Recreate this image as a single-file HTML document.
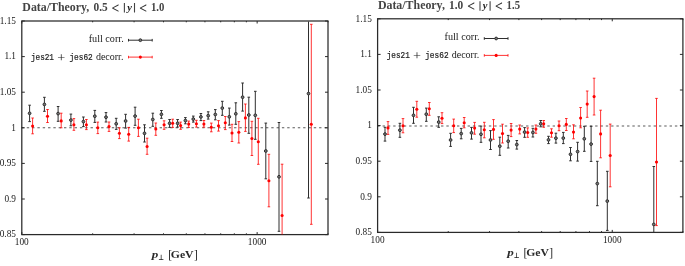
<!DOCTYPE html><html><head><meta charset="utf-8"><title>Data/Theory</title><style>
html,body{margin:0;padding:0;background:#fff;}
body{width:685px;height:266px;overflow:hidden;}
svg{display:block;filter:blur(0.3px);}
text{font-family:"Liberation Serif",serif;fill:#1a1a1a;}
.tl{font-size:9.3px;}
.ti{font-size:11.5px;font-weight:bold;fill:#444;}
.bi{font-style:italic;}
.lg{font-size:9.3px;}
.tt{font-family:"Liberation Mono",monospace;font-size:8.3px;stroke:#222;stroke-width:0.2px;}
.xl{font-size:9.5px;font-weight:bold;fill:#2a2a2a;}
.xlr{font-size:11.5px;}
.lt{font-size:14px;font-weight:bold;fill:#333;}
.yi{font-size:10.5px;font-weight:bold;font-style:italic;fill:#222;}
.pl{font-size:12.5px;}
.sub{font-size:7.5px;font-weight:bold;font-family:"Liberation Serif","DejaVu Serif",serif;}
</style></head><body><svg width="685" height="266" viewBox="0 0 685 266"><line x1="21.45" y1="127.8" x2="328" y2="127.8" stroke="#5a5a5a" stroke-width="1.1" stroke-dasharray="2.4 2.915"/><g stroke="#111" stroke-width="0.9"><line x1="21.8" y1="234.6" x2="24.8" y2="234.6"/><line x1="328" y1="234.6" x2="325" y2="234.6"/><line x1="21.8" y1="199" x2="24.8" y2="199"/><line x1="328" y1="199" x2="325" y2="199"/><line x1="21.8" y1="163.4" x2="24.8" y2="163.4"/><line x1="328" y1="163.4" x2="325" y2="163.4"/><line x1="21.8" y1="127.8" x2="24.8" y2="127.8"/><line x1="328" y1="127.8" x2="325" y2="127.8"/><line x1="21.8" y1="92.2" x2="24.8" y2="92.2"/><line x1="328" y1="92.2" x2="325" y2="92.2"/><line x1="21.8" y1="56.6" x2="24.8" y2="56.6"/><line x1="328" y1="56.6" x2="325" y2="56.6"/><line x1="21.8" y1="21" x2="24.8" y2="21"/><line x1="328" y1="21" x2="325" y2="21"/><line x1="21.8" y1="234.6" x2="21.8" y2="232.1"/><line x1="21.8" y1="21" x2="21.8" y2="23.5"/><line x1="92.65" y1="234.6" x2="92.65" y2="233.3"/><line x1="92.65" y1="21" x2="92.65" y2="22.3"/><line x1="134.09" y1="234.6" x2="134.09" y2="233.3"/><line x1="134.09" y1="21" x2="134.09" y2="22.3"/><line x1="163.5" y1="234.6" x2="163.5" y2="233.3"/><line x1="163.5" y1="21" x2="163.5" y2="22.3"/><line x1="186.3" y1="234.6" x2="186.3" y2="233.3"/><line x1="186.3" y1="21" x2="186.3" y2="22.3"/><line x1="204.94" y1="234.6" x2="204.94" y2="233.3"/><line x1="204.94" y1="21" x2="204.94" y2="22.3"/><line x1="220.7" y1="234.6" x2="220.7" y2="233.3"/><line x1="220.7" y1="21" x2="220.7" y2="22.3"/><line x1="234.34" y1="234.6" x2="234.34" y2="233.3"/><line x1="234.34" y1="21" x2="234.34" y2="22.3"/><line x1="246.38" y1="234.6" x2="246.38" y2="233.3"/><line x1="246.38" y1="21" x2="246.38" y2="22.3"/><line x1="257.15" y1="234.6" x2="257.15" y2="232.1"/><line x1="257.15" y1="21" x2="257.15" y2="23.5"/><line x1="328" y1="234.6" x2="328" y2="233.3"/><line x1="328" y1="21" x2="328" y2="22.3"/></g><rect x="21.8" y="21" width="306.2" height="213.6" fill="none" stroke="#2a2a2a" stroke-width="1.25"/><text x="16" y="237.3" text-anchor="end" class="tl">0.85</text><text x="16" y="201.7" text-anchor="end" class="tl">0.9</text><text x="16" y="166.1" text-anchor="end" class="tl">0.95</text><text x="16" y="130.5" text-anchor="end" class="tl">1</text><text x="16" y="94.9" text-anchor="end" class="tl">1.05</text><text x="16" y="59.3" text-anchor="end" class="tl">1.1</text><text x="16" y="23.7" text-anchor="end" class="tl">1.15</text><text x="21.8" y="245.4" text-anchor="middle" class="tl">100</text><text x="257.15" y="245.4" text-anchor="middle" class="tl">1000</text><line x1="377.25" y1="126" x2="682.9" y2="126" stroke="#5a5a5a" stroke-width="1.1" stroke-dasharray="2.4 2.915"/><g stroke="#111" stroke-width="0.9"><line x1="377.6" y1="232.4" x2="380.6" y2="232.4"/><line x1="682.9" y1="232.4" x2="679.9" y2="232.4"/><line x1="377.6" y1="196.8" x2="380.6" y2="196.8"/><line x1="682.9" y1="196.8" x2="679.9" y2="196.8"/><line x1="377.6" y1="161.2" x2="380.6" y2="161.2"/><line x1="682.9" y1="161.2" x2="679.9" y2="161.2"/><line x1="377.6" y1="125.6" x2="380.6" y2="125.6"/><line x1="682.9" y1="125.6" x2="679.9" y2="125.6"/><line x1="377.6" y1="90" x2="380.6" y2="90"/><line x1="682.9" y1="90" x2="679.9" y2="90"/><line x1="377.6" y1="54.4" x2="380.6" y2="54.4"/><line x1="682.9" y1="54.4" x2="679.9" y2="54.4"/><line x1="377.6" y1="18.8" x2="380.6" y2="18.8"/><line x1="682.9" y1="18.8" x2="679.9" y2="18.8"/><line x1="377.6" y1="232.4" x2="377.6" y2="229.9"/><line x1="377.6" y1="18.8" x2="377.6" y2="21.3"/><line x1="448.24" y1="232.4" x2="448.24" y2="231.1"/><line x1="448.24" y1="18.8" x2="448.24" y2="20.1"/><line x1="489.56" y1="232.4" x2="489.56" y2="231.1"/><line x1="489.56" y1="18.8" x2="489.56" y2="20.1"/><line x1="518.88" y1="232.4" x2="518.88" y2="231.1"/><line x1="518.88" y1="18.8" x2="518.88" y2="20.1"/><line x1="541.62" y1="232.4" x2="541.62" y2="231.1"/><line x1="541.62" y1="18.8" x2="541.62" y2="20.1"/><line x1="560.2" y1="232.4" x2="560.2" y2="231.1"/><line x1="560.2" y1="18.8" x2="560.2" y2="20.1"/><line x1="575.91" y1="232.4" x2="575.91" y2="231.1"/><line x1="575.91" y1="18.8" x2="575.91" y2="20.1"/><line x1="589.52" y1="232.4" x2="589.52" y2="231.1"/><line x1="589.52" y1="18.8" x2="589.52" y2="20.1"/><line x1="601.52" y1="232.4" x2="601.52" y2="231.1"/><line x1="601.52" y1="18.8" x2="601.52" y2="20.1"/><line x1="612.26" y1="232.4" x2="612.26" y2="229.9"/><line x1="612.26" y1="18.8" x2="612.26" y2="21.3"/><line x1="682.9" y1="232.4" x2="682.9" y2="231.1"/><line x1="682.9" y1="18.8" x2="682.9" y2="20.1"/></g><rect x="377.6" y="18.8" width="305.3" height="213.6" fill="none" stroke="#2a2a2a" stroke-width="1.25"/><text x="371.8" y="235.1" text-anchor="end" class="tl">0.85</text><text x="371.8" y="199.5" text-anchor="end" class="tl">0.9</text><text x="371.8" y="163.9" text-anchor="end" class="tl">0.95</text><text x="371.8" y="128.3" text-anchor="end" class="tl">1</text><text x="371.8" y="92.7" text-anchor="end" class="tl">1.05</text><text x="371.8" y="57.1" text-anchor="end" class="tl">1.1</text><text x="371.8" y="21.5" text-anchor="end" class="tl">1.15</text><text x="377.6" y="243.2" text-anchor="middle" class="tl">100</text><text x="612.26" y="243.2" text-anchor="middle" class="tl">1000</text><g stroke="#2e2e2e" stroke-width="1.0" fill="none"><line x1="29.6" y1="105.2" x2="29.6" y2="121.6"/><line x1="28.3" y1="105.2" x2="30.9" y2="105.2"/><line x1="28.3" y1="121.6" x2="30.9" y2="121.6"/><line x1="44.4" y1="97.3" x2="44.4" y2="111.3"/><line x1="43.1" y1="97.3" x2="45.7" y2="97.3"/><line x1="43.1" y1="111.3" x2="45.7" y2="111.3"/><line x1="58.1" y1="106.5" x2="58.1" y2="121.3"/><line x1="56.8" y1="106.5" x2="59.4" y2="106.5"/><line x1="56.8" y1="121.3" x2="59.4" y2="121.3"/><line x1="70.9" y1="114.1" x2="70.9" y2="125.8"/><line x1="69.6" y1="114.1" x2="72.2" y2="114.1"/><line x1="69.6" y1="125.8" x2="72.2" y2="125.8"/><line x1="83.4" y1="117" x2="83.4" y2="126.6"/><line x1="82.1" y1="117" x2="84.7" y2="117"/><line x1="82.1" y1="126.6" x2="84.7" y2="126.6"/><line x1="94.8" y1="110.4" x2="94.8" y2="122.4"/><line x1="93.5" y1="110.4" x2="96.1" y2="110.4"/><line x1="93.5" y1="122.4" x2="96.1" y2="122.4"/><line x1="106" y1="112.6" x2="106" y2="122"/><line x1="104.7" y1="112.6" x2="107.3" y2="112.6"/><line x1="104.7" y1="122" x2="107.3" y2="122"/><line x1="116.2" y1="118.3" x2="116.2" y2="129.4"/><line x1="114.9" y1="118.3" x2="117.5" y2="118.3"/><line x1="114.9" y1="129.4" x2="117.5" y2="129.4"/><line x1="125.6" y1="114.3" x2="125.6" y2="128.1"/><line x1="124.3" y1="114.3" x2="126.9" y2="114.3"/><line x1="124.3" y1="128.1" x2="126.9" y2="128.1"/><line x1="135.1" y1="107.2" x2="135.1" y2="125.3"/><line x1="133.8" y1="107.2" x2="136.4" y2="107.2"/><line x1="133.8" y1="125.3" x2="136.4" y2="125.3"/><line x1="144.5" y1="124.8" x2="144.5" y2="142"/><line x1="143.2" y1="124.8" x2="145.8" y2="124.8"/><line x1="143.2" y1="142" x2="145.8" y2="142"/><line x1="152.8" y1="113.2" x2="152.8" y2="126.3"/><line x1="151.5" y1="113.2" x2="154.1" y2="113.2"/><line x1="151.5" y1="126.3" x2="154.1" y2="126.3"/><line x1="161.4" y1="110.5" x2="161.4" y2="118.3"/><line x1="160.1" y1="110.5" x2="162.7" y2="110.5"/><line x1="160.1" y1="118.3" x2="162.7" y2="118.3"/><line x1="169.6" y1="119.5" x2="169.6" y2="127.4"/><line x1="168.3" y1="119.5" x2="170.9" y2="119.5"/><line x1="168.3" y1="127.4" x2="170.9" y2="127.4"/><line x1="177.6" y1="119.5" x2="177.6" y2="127.1"/><line x1="176.3" y1="119.5" x2="178.9" y2="119.5"/><line x1="176.3" y1="127.1" x2="178.9" y2="127.1"/><line x1="185.4" y1="117.6" x2="185.4" y2="123.8"/><line x1="184.1" y1="117.6" x2="186.7" y2="117.6"/><line x1="184.1" y1="123.8" x2="186.7" y2="123.8"/><line x1="193.3" y1="116.1" x2="193.3" y2="122.1"/><line x1="192" y1="116.1" x2="194.6" y2="116.1"/><line x1="192" y1="122.1" x2="194.6" y2="122.1"/><line x1="200.9" y1="113.5" x2="200.9" y2="120.6"/><line x1="199.6" y1="113.5" x2="202.2" y2="113.5"/><line x1="199.6" y1="120.6" x2="202.2" y2="120.6"/><line x1="208.2" y1="111.8" x2="208.2" y2="119.1"/><line x1="206.9" y1="111.8" x2="209.5" y2="111.8"/><line x1="206.9" y1="119.1" x2="209.5" y2="119.1"/><line x1="215.3" y1="109.6" x2="215.3" y2="119.8"/><line x1="214" y1="109.6" x2="216.6" y2="109.6"/><line x1="214" y1="119.8" x2="216.6" y2="119.8"/><line x1="222.3" y1="101.3" x2="222.3" y2="115.3"/><line x1="221" y1="101.3" x2="223.6" y2="101.3"/><line x1="221" y1="115.3" x2="223.6" y2="115.3"/><line x1="229.3" y1="108.1" x2="229.3" y2="125.1"/><line x1="228" y1="108.1" x2="230.6" y2="108.1"/><line x1="228" y1="125.1" x2="230.6" y2="125.1"/><line x1="235.8" y1="102.8" x2="235.8" y2="124.3"/><line x1="234.5" y1="102.8" x2="237.1" y2="102.8"/><line x1="234.5" y1="124.3" x2="237.1" y2="124.3"/><line x1="242.6" y1="83" x2="242.6" y2="111.1"/><line x1="241.3" y1="83" x2="243.9" y2="83"/><line x1="241.3" y1="111.1" x2="243.9" y2="111.1"/><line x1="248.8" y1="97.2" x2="248.8" y2="133.3"/><line x1="247.5" y1="97.2" x2="250.1" y2="97.2"/><line x1="247.5" y1="133.3" x2="250.1" y2="133.3"/><line x1="255.3" y1="91.3" x2="255.3" y2="139.3"/><line x1="254" y1="91.3" x2="256.6" y2="91.3"/><line x1="254" y1="139.3" x2="256.6" y2="139.3"/><line x1="265.8" y1="123.1" x2="265.8" y2="178.8"/><line x1="264.5" y1="123.1" x2="267.1" y2="123.1"/><line x1="264.5" y1="178.8" x2="267.1" y2="178.8"/><line x1="279" y1="122.5" x2="279" y2="231.3"/><line x1="277.7" y1="122.5" x2="280.3" y2="122.5"/><line x1="277.7" y1="231.3" x2="280.3" y2="231.3"/><line x1="308.5" y1="21.5" x2="308.5" y2="198"/><line x1="307.2" y1="198" x2="309.8" y2="198"/></g><g fill="#777" stroke="#2e2e2e" stroke-width="1.0"><circle cx="29.6" cy="113.3" r="1.4"/><circle cx="44.4" cy="104.4" r="1.4"/><circle cx="58.1" cy="113.6" r="1.4"/><circle cx="70.9" cy="120.1" r="1.4"/><circle cx="83.4" cy="121.6" r="1.4"/><circle cx="94.8" cy="116.2" r="1.4"/><circle cx="106" cy="117.2" r="1.4"/><circle cx="116.2" cy="123.8" r="1.4"/><circle cx="125.6" cy="121" r="1.4"/><circle cx="135.1" cy="116.1" r="1.4"/><circle cx="144.5" cy="133.3" r="1.4"/><circle cx="152.8" cy="119.5" r="1.4"/><circle cx="161.4" cy="114.3" r="1.4"/><circle cx="169.6" cy="123.3" r="1.4"/><circle cx="177.6" cy="123.3" r="1.4"/><circle cx="185.4" cy="120.6" r="1.4"/><circle cx="193.3" cy="119.1" r="1.4"/><circle cx="200.9" cy="116.9" r="1.4"/><circle cx="208.2" cy="115.7" r="1.4"/><circle cx="215.3" cy="114.5" r="1.4"/><circle cx="222.3" cy="108.1" r="1.4"/><circle cx="229.3" cy="116.8" r="1.4"/><circle cx="235.8" cy="113.8" r="1.4"/><circle cx="242.6" cy="97.2" r="1.4"/><circle cx="248.8" cy="115" r="1.4"/><circle cx="255.3" cy="115.3" r="1.4"/><circle cx="265.8" cy="151" r="1.4"/><circle cx="279" cy="176.8" r="1.4"/><circle cx="308.5" cy="93.6" r="1.4"/></g><g stroke="#f00" stroke-width="0.8" fill="none"><line x1="32.6" y1="118" x2="32.6" y2="133.8"/><line x1="31.3" y1="118" x2="33.9" y2="118"/><line x1="31.3" y1="133.8" x2="33.9" y2="133.8"/><line x1="47.5" y1="109.5" x2="47.5" y2="122.5"/><line x1="46.2" y1="109.5" x2="48.8" y2="109.5"/><line x1="46.2" y1="122.5" x2="48.8" y2="122.5"/><line x1="61.2" y1="113.2" x2="61.2" y2="127.8"/><line x1="59.9" y1="113.2" x2="62.5" y2="113.2"/><line x1="59.9" y1="127.8" x2="62.5" y2="127.8"/><line x1="73.9" y1="118.6" x2="73.9" y2="130.3"/><line x1="72.6" y1="118.6" x2="75.2" y2="118.6"/><line x1="72.6" y1="130.3" x2="75.2" y2="130.3"/><line x1="86.4" y1="119.5" x2="86.4" y2="129.6"/><line x1="85.1" y1="119.5" x2="87.7" y2="119.5"/><line x1="85.1" y1="129.6" x2="87.7" y2="129.6"/><line x1="97.8" y1="122.1" x2="97.8" y2="133.6"/><line x1="96.5" y1="122.1" x2="99.1" y2="122.1"/><line x1="96.5" y1="133.6" x2="99.1" y2="133.6"/><line x1="109" y1="122" x2="109" y2="131.4"/><line x1="107.7" y1="122" x2="110.3" y2="122"/><line x1="107.7" y1="131.4" x2="110.3" y2="131.4"/><line x1="119.4" y1="127.8" x2="119.4" y2="138.6"/><line x1="118.1" y1="127.8" x2="120.7" y2="127.8"/><line x1="118.1" y1="138.6" x2="120.7" y2="138.6"/><line x1="128.7" y1="127.4" x2="128.7" y2="141.1"/><line x1="127.4" y1="127.4" x2="130" y2="127.4"/><line x1="127.4" y1="141.1" x2="130" y2="141.1"/><line x1="138.4" y1="119.2" x2="138.4" y2="136.4"/><line x1="137.1" y1="119.2" x2="139.7" y2="119.2"/><line x1="137.1" y1="136.4" x2="139.7" y2="136.4"/><line x1="147.1" y1="138.2" x2="147.1" y2="154.3"/><line x1="145.8" y1="138.2" x2="148.4" y2="138.2"/><line x1="145.8" y1="154.3" x2="148.4" y2="154.3"/><line x1="155.8" y1="123" x2="155.8" y2="135.3"/><line x1="154.5" y1="123" x2="157.1" y2="123"/><line x1="154.5" y1="135.3" x2="157.1" y2="135.3"/><line x1="164.1" y1="120.8" x2="164.1" y2="129.3"/><line x1="162.8" y1="120.8" x2="165.4" y2="120.8"/><line x1="162.8" y1="129.3" x2="165.4" y2="129.3"/><line x1="172.7" y1="119.2" x2="172.7" y2="127.4"/><line x1="171.4" y1="119.2" x2="174" y2="119.2"/><line x1="171.4" y1="127.4" x2="174" y2="127.4"/><line x1="180.6" y1="122.1" x2="180.6" y2="129.3"/><line x1="179.3" y1="122.1" x2="181.9" y2="122.1"/><line x1="179.3" y1="129.3" x2="181.9" y2="129.3"/><line x1="188.7" y1="121.1" x2="188.7" y2="127.4"/><line x1="187.4" y1="121.1" x2="190" y2="121.1"/><line x1="187.4" y1="127.4" x2="190" y2="127.4"/><line x1="196.4" y1="120.3" x2="196.4" y2="127.1"/><line x1="195.1" y1="120.3" x2="197.7" y2="120.3"/><line x1="195.1" y1="127.1" x2="197.7" y2="127.1"/><line x1="203.9" y1="120.5" x2="203.9" y2="127.2"/><line x1="202.6" y1="120.5" x2="205.2" y2="120.5"/><line x1="202.6" y1="127.2" x2="205.2" y2="127.2"/><line x1="211.3" y1="123.1" x2="211.3" y2="131.8"/><line x1="210" y1="123.1" x2="212.6" y2="123.1"/><line x1="210" y1="131.8" x2="212.6" y2="131.8"/><line x1="218.5" y1="120.6" x2="218.5" y2="131.1"/><line x1="217.2" y1="120.6" x2="219.8" y2="120.6"/><line x1="217.2" y1="131.1" x2="219.8" y2="131.1"/><line x1="225.3" y1="116.5" x2="225.3" y2="129.6"/><line x1="224" y1="116.5" x2="226.6" y2="116.5"/><line x1="224" y1="129.6" x2="226.6" y2="129.6"/><line x1="232" y1="124.3" x2="232" y2="141.5"/><line x1="230.7" y1="124.3" x2="233.3" y2="124.3"/><line x1="230.7" y1="141.5" x2="233.3" y2="141.5"/><line x1="238.8" y1="121.6" x2="238.8" y2="143"/><line x1="237.5" y1="121.6" x2="240.1" y2="121.6"/><line x1="237.5" y1="143" x2="240.1" y2="143"/><line x1="245.4" y1="104" x2="245.4" y2="131.4"/><line x1="244.1" y1="104" x2="246.7" y2="104"/><line x1="244.1" y1="131.4" x2="246.7" y2="131.4"/><line x1="251.9" y1="121.3" x2="251.9" y2="155.5"/><line x1="250.6" y1="121.3" x2="253.2" y2="121.3"/><line x1="250.6" y1="155.5" x2="253.2" y2="155.5"/><line x1="258.3" y1="118.3" x2="258.3" y2="164.3"/><line x1="257" y1="118.3" x2="259.6" y2="118.3"/><line x1="257" y1="164.3" x2="259.6" y2="164.3"/><line x1="268.9" y1="154.3" x2="268.9" y2="206.8"/><line x1="267.6" y1="154.3" x2="270.2" y2="154.3"/><line x1="267.6" y1="206.8" x2="270.2" y2="206.8"/><line x1="282.1" y1="164.2" x2="282.1" y2="234.5"/><line x1="280.8" y1="164.2" x2="283.4" y2="164.2"/><line x1="311.3" y1="24.3" x2="311.3" y2="224.3"/><line x1="310" y1="24.3" x2="312.6" y2="24.3"/><line x1="310" y1="224.3" x2="312.6" y2="224.3"/></g><g fill="#f00"><circle cx="32.6" cy="126.1" r="1.55"/><circle cx="47.5" cy="116.3" r="1.55"/><circle cx="61.2" cy="120.9" r="1.55"/><circle cx="73.9" cy="124.8" r="1.55"/><circle cx="86.4" cy="124.8" r="1.55"/><circle cx="97.8" cy="127.8" r="1.55"/><circle cx="109" cy="126.6" r="1.55"/><circle cx="119.4" cy="133.2" r="1.55"/><circle cx="128.7" cy="134.3" r="1.55"/><circle cx="138.4" cy="127.8" r="1.55"/><circle cx="147.1" cy="146.5" r="1.55"/><circle cx="155.8" cy="129" r="1.55"/><circle cx="164.1" cy="124.8" r="1.55"/><circle cx="172.7" cy="123.3" r="1.55"/><circle cx="180.6" cy="125.6" r="1.55"/><circle cx="188.7" cy="124.1" r="1.55"/><circle cx="196.4" cy="123.8" r="1.55"/><circle cx="203.9" cy="124.1" r="1.55"/><circle cx="211.3" cy="127.3" r="1.55"/><circle cx="218.5" cy="125.8" r="1.55"/><circle cx="225.3" cy="122.8" r="1.55"/><circle cx="232" cy="133" r="1.55"/><circle cx="238.8" cy="132.2" r="1.55"/><circle cx="245.4" cy="117.9" r="1.55"/><circle cx="251.9" cy="138.5" r="1.55"/><circle cx="258.3" cy="141.8" r="1.55"/><circle cx="268.9" cy="180.8" r="1.55"/><circle cx="282.1" cy="215.5" r="1.55"/><circle cx="311.3" cy="124.2" r="1.55"/></g><g stroke="#2e2e2e" stroke-width="1.0" fill="none"><line x1="385" y1="127.3" x2="385" y2="141.1"/><line x1="383.7" y1="127.3" x2="386.3" y2="127.3"/><line x1="383.7" y1="141.1" x2="386.3" y2="141.1"/><line x1="399.9" y1="123.3" x2="399.9" y2="137.3"/><line x1="398.6" y1="123.3" x2="401.2" y2="123.3"/><line x1="398.6" y1="137.3" x2="401.2" y2="137.3"/><line x1="413.5" y1="107.3" x2="413.5" y2="123.3"/><line x1="412.2" y1="107.3" x2="414.8" y2="107.3"/><line x1="412.2" y1="123.3" x2="414.8" y2="123.3"/><line x1="426.3" y1="108.1" x2="426.3" y2="121.3"/><line x1="425" y1="108.1" x2="427.6" y2="108.1"/><line x1="425" y1="121.3" x2="427.6" y2="121.3"/><line x1="438.7" y1="116.8" x2="438.7" y2="127.3"/><line x1="437.4" y1="116.8" x2="440" y2="116.8"/><line x1="437.4" y1="127.3" x2="440" y2="127.3"/><line x1="450.6" y1="133.3" x2="450.6" y2="146.4"/><line x1="449.3" y1="133.3" x2="451.9" y2="133.3"/><line x1="449.3" y1="146.4" x2="451.9" y2="146.4"/><line x1="461.2" y1="128.4" x2="461.2" y2="138.8"/><line x1="459.9" y1="128.4" x2="462.5" y2="128.4"/><line x1="459.9" y1="138.8" x2="462.5" y2="138.8"/><line x1="471.5" y1="127.4" x2="471.5" y2="139.1"/><line x1="470.2" y1="127.4" x2="472.8" y2="127.4"/><line x1="470.2" y1="139.1" x2="472.8" y2="139.1"/><line x1="481" y1="126.1" x2="481" y2="142.3"/><line x1="479.7" y1="126.1" x2="482.3" y2="126.1"/><line x1="479.7" y1="142.3" x2="482.3" y2="142.3"/><line x1="490.5" y1="130.6" x2="490.5" y2="149.5"/><line x1="489.2" y1="130.6" x2="491.8" y2="130.6"/><line x1="489.2" y1="149.5" x2="491.8" y2="149.5"/><line x1="499.8" y1="137.2" x2="499.8" y2="155.3"/><line x1="498.5" y1="137.2" x2="501.1" y2="137.2"/><line x1="498.5" y1="155.3" x2="501.1" y2="155.3"/><line x1="508.2" y1="135.4" x2="508.2" y2="148"/><line x1="506.9" y1="135.4" x2="509.5" y2="135.4"/><line x1="506.9" y1="148" x2="509.5" y2="148"/><line x1="516.8" y1="140.5" x2="516.8" y2="149.1"/><line x1="515.5" y1="140.5" x2="518.1" y2="140.5"/><line x1="515.5" y1="149.1" x2="518.1" y2="149.1"/><line x1="524.6" y1="127.6" x2="524.6" y2="137.3"/><line x1="523.3" y1="127.6" x2="525.9" y2="127.6"/><line x1="523.3" y1="137.3" x2="525.9" y2="137.3"/><line x1="532.9" y1="128.3" x2="532.9" y2="137"/><line x1="531.6" y1="128.3" x2="534.2" y2="128.3"/><line x1="531.6" y1="137" x2="534.2" y2="137"/><line x1="540.7" y1="120.5" x2="540.7" y2="126.8"/><line x1="539.4" y1="120.5" x2="542" y2="120.5"/><line x1="539.4" y1="126.8" x2="542" y2="126.8"/><line x1="548.5" y1="136.3" x2="548.5" y2="143.6"/><line x1="547.2" y1="136.3" x2="549.8" y2="136.3"/><line x1="547.2" y1="143.6" x2="549.8" y2="143.6"/><line x1="555.9" y1="133.2" x2="555.9" y2="143.1"/><line x1="554.6" y1="133.2" x2="557.2" y2="133.2"/><line x1="554.6" y1="143.1" x2="557.2" y2="143.1"/><line x1="563.3" y1="132.4" x2="563.3" y2="143.6"/><line x1="562" y1="132.4" x2="564.6" y2="132.4"/><line x1="562" y1="143.6" x2="564.6" y2="143.6"/><line x1="570.5" y1="147.5" x2="570.5" y2="160.8"/><line x1="569.2" y1="147.5" x2="571.8" y2="147.5"/><line x1="569.2" y1="160.8" x2="571.8" y2="160.8"/><line x1="577.6" y1="142.3" x2="577.6" y2="161.1"/><line x1="576.3" y1="142.3" x2="578.9" y2="142.3"/><line x1="576.3" y1="161.1" x2="578.9" y2="161.1"/><line x1="584.3" y1="126.3" x2="584.3" y2="151.3"/><line x1="583" y1="126.3" x2="585.6" y2="126.3"/><line x1="583" y1="151.3" x2="585.6" y2="151.3"/><line x1="591.1" y1="126.3" x2="591.1" y2="161.4"/><line x1="589.8" y1="126.3" x2="592.4" y2="126.3"/><line x1="589.8" y1="161.4" x2="592.4" y2="161.4"/><line x1="597.3" y1="161.3" x2="597.3" y2="205.7"/><line x1="596" y1="161.3" x2="598.6" y2="161.3"/><line x1="596" y1="205.7" x2="598.6" y2="205.7"/><line x1="607.3" y1="171.3" x2="607.3" y2="230.4"/><line x1="606" y1="171.3" x2="608.6" y2="171.3"/><line x1="606" y1="230.4" x2="608.6" y2="230.4"/><line x1="653.8" y1="166.5" x2="653.8" y2="232.5"/><line x1="652.5" y1="166.5" x2="655.1" y2="166.5"/></g><g fill="#777" stroke="#2e2e2e" stroke-width="1.0"><circle cx="385" cy="134.1" r="1.4"/><circle cx="399.9" cy="130.2" r="1.4"/><circle cx="413.5" cy="115.3" r="1.4"/><circle cx="426.3" cy="114.2" r="1.4"/><circle cx="438.7" cy="122.1" r="1.4"/><circle cx="450.6" cy="140" r="1.4"/><circle cx="461.2" cy="133.6" r="1.4"/><circle cx="471.5" cy="132.9" r="1.4"/><circle cx="481" cy="134.3" r="1.4"/><circle cx="490.5" cy="140" r="1.4"/><circle cx="499.8" cy="146.2" r="1.4"/><circle cx="508.2" cy="141.2" r="1.4"/><circle cx="516.8" cy="144.6" r="1.4"/><circle cx="524.6" cy="132.1" r="1.4"/><circle cx="532.9" cy="132.5" r="1.4"/><circle cx="540.7" cy="123.8" r="1.4"/><circle cx="548.5" cy="139.9" r="1.4"/><circle cx="555.9" cy="138.2" r="1.4"/><circle cx="563.3" cy="138.1" r="1.4"/><circle cx="570.5" cy="154.3" r="1.4"/><circle cx="577.6" cy="151.6" r="1.4"/><circle cx="584.3" cy="138.8" r="1.4"/><circle cx="591.1" cy="144.1" r="1.4"/><circle cx="597.3" cy="183.6" r="1.4"/><circle cx="607.3" cy="201.1" r="1.4"/><circle cx="653.8" cy="224.4" r="1.4"/></g><g stroke="#f00" stroke-width="0.8" fill="none"><line x1="388" y1="121.6" x2="388" y2="134.4"/><line x1="386.7" y1="121.6" x2="389.3" y2="121.6"/><line x1="386.7" y1="134.4" x2="389.3" y2="134.4"/><line x1="403" y1="118.6" x2="403" y2="132.8"/><line x1="401.7" y1="118.6" x2="404.3" y2="118.6"/><line x1="401.7" y1="132.8" x2="404.3" y2="132.8"/><line x1="416.8" y1="101.3" x2="416.8" y2="117.2"/><line x1="415.5" y1="101.3" x2="418.1" y2="101.3"/><line x1="415.5" y1="117.2" x2="418.1" y2="117.2"/><line x1="429.3" y1="102.5" x2="429.3" y2="115.3"/><line x1="428" y1="102.5" x2="430.6" y2="102.5"/><line x1="428" y1="115.3" x2="430.6" y2="115.3"/><line x1="442" y1="112.7" x2="442" y2="123.6"/><line x1="440.7" y1="112.7" x2="443.3" y2="112.7"/><line x1="440.7" y1="123.6" x2="443.3" y2="123.6"/><line x1="453.7" y1="119.1" x2="453.7" y2="132.6"/><line x1="452.4" y1="119.1" x2="455" y2="119.1"/><line x1="452.4" y1="132.6" x2="455" y2="132.6"/><line x1="464.2" y1="117.5" x2="464.2" y2="127.8"/><line x1="462.9" y1="117.5" x2="465.5" y2="117.5"/><line x1="462.9" y1="127.8" x2="465.5" y2="127.8"/><line x1="474.6" y1="122.4" x2="474.6" y2="134.2"/><line x1="473.3" y1="122.4" x2="475.9" y2="122.4"/><line x1="473.3" y1="134.2" x2="475.9" y2="134.2"/><line x1="484.3" y1="122.3" x2="484.3" y2="137.8"/><line x1="483" y1="122.3" x2="485.6" y2="122.3"/><line x1="483" y1="137.8" x2="485.6" y2="137.8"/><line x1="493.5" y1="119.6" x2="493.5" y2="139.3"/><line x1="492.2" y1="119.6" x2="494.8" y2="119.6"/><line x1="492.2" y1="139.3" x2="494.8" y2="139.3"/><line x1="502.5" y1="124.2" x2="502.5" y2="143"/><line x1="501.2" y1="124.2" x2="503.8" y2="124.2"/><line x1="501.2" y1="143" x2="503.8" y2="143"/><line x1="511.1" y1="123.5" x2="511.1" y2="136.6"/><line x1="509.8" y1="123.5" x2="512.4" y2="123.5"/><line x1="509.8" y1="136.6" x2="512.4" y2="136.6"/><line x1="519.7" y1="125" x2="519.7" y2="133.9"/><line x1="518.4" y1="125" x2="521" y2="125"/><line x1="518.4" y1="133.9" x2="521" y2="133.9"/><line x1="527.7" y1="127.9" x2="527.7" y2="137.3"/><line x1="526.4" y1="127.9" x2="529" y2="127.9"/><line x1="526.4" y1="137.3" x2="529" y2="137.3"/><line x1="535.9" y1="125" x2="535.9" y2="133.3"/><line x1="534.6" y1="125" x2="537.2" y2="125"/><line x1="534.6" y1="133.3" x2="537.2" y2="133.3"/><line x1="543.7" y1="120.5" x2="543.7" y2="127.3"/><line x1="542.4" y1="120.5" x2="545" y2="120.5"/><line x1="542.4" y1="127.3" x2="545" y2="127.3"/><line x1="551.5" y1="128.8" x2="551.5" y2="137.2"/><line x1="550.2" y1="128.8" x2="552.8" y2="128.8"/><line x1="550.2" y1="137.2" x2="552.8" y2="137.2"/><line x1="559" y1="121" x2="559" y2="130.7"/><line x1="557.7" y1="121" x2="560.3" y2="121"/><line x1="557.7" y1="130.7" x2="560.3" y2="130.7"/><line x1="566.3" y1="118.5" x2="566.3" y2="130.5"/><line x1="565" y1="118.5" x2="567.6" y2="118.5"/><line x1="565" y1="130.5" x2="567.6" y2="130.5"/><line x1="573.5" y1="124.8" x2="573.5" y2="138.8"/><line x1="572.2" y1="124.8" x2="574.8" y2="124.8"/><line x1="572.2" y1="138.8" x2="574.8" y2="138.8"/><line x1="580.6" y1="107.5" x2="580.6" y2="127.8"/><line x1="579.3" y1="107.5" x2="581.9" y2="107.5"/><line x1="579.3" y1="127.8" x2="581.9" y2="127.8"/><line x1="587.2" y1="91" x2="587.2" y2="117.3"/><line x1="585.9" y1="91" x2="588.5" y2="91"/><line x1="585.9" y1="117.3" x2="588.5" y2="117.3"/><line x1="594.1" y1="78.2" x2="594.1" y2="115"/><line x1="592.8" y1="78.2" x2="595.4" y2="78.2"/><line x1="592.8" y1="115" x2="595.4" y2="115"/><line x1="600.6" y1="110.2" x2="600.6" y2="157.8"/><line x1="599.3" y1="110.2" x2="601.9" y2="110.2"/><line x1="599.3" y1="157.8" x2="601.9" y2="157.8"/><line x1="610.2" y1="124.1" x2="610.2" y2="186.8"/><line x1="608.9" y1="124.1" x2="611.5" y2="124.1"/><line x1="608.9" y1="186.8" x2="611.5" y2="186.8"/><line x1="656.5" y1="98.4" x2="656.5" y2="225.6"/><line x1="655.2" y1="98.4" x2="657.8" y2="98.4"/><line x1="655.2" y1="225.6" x2="657.8" y2="225.6"/></g><g fill="#f00"><circle cx="388" cy="127.9" r="1.55"/><circle cx="403" cy="125.8" r="1.55"/><circle cx="416.8" cy="109.3" r="1.55"/><circle cx="429.3" cy="108.8" r="1.55"/><circle cx="442" cy="118.3" r="1.55"/><circle cx="453.7" cy="125.8" r="1.55"/><circle cx="464.2" cy="122.8" r="1.55"/><circle cx="474.6" cy="128.1" r="1.55"/><circle cx="484.3" cy="129.8" r="1.55"/><circle cx="493.5" cy="129.4" r="1.55"/><circle cx="502.5" cy="133.6" r="1.55"/><circle cx="511.1" cy="130.1" r="1.55"/><circle cx="519.7" cy="129.1" r="1.55"/><circle cx="527.7" cy="132.5" r="1.55"/><circle cx="535.9" cy="129.1" r="1.55"/><circle cx="543.7" cy="123.8" r="1.55"/><circle cx="551.5" cy="132.8" r="1.55"/><circle cx="559" cy="125.8" r="1.55"/><circle cx="566.3" cy="124.4" r="1.55"/><circle cx="573.5" cy="132.1" r="1.55"/><circle cx="580.6" cy="118" r="1.55"/><circle cx="587.2" cy="104.1" r="1.55"/><circle cx="594.1" cy="96.6" r="1.55"/><circle cx="600.6" cy="133.9" r="1.55"/><circle cx="610.2" cy="155.5" r="1.55"/><circle cx="656.5" cy="162" r="1.55"/></g><text x="22.3" y="10.8" class="ti" textLength="67" lengthAdjust="spacingAndGlyphs">Data/Theory,</text><text x="93.5" y="10.8" class="ti" textLength="14.2" lengthAdjust="spacingAndGlyphs">0.5</text><text x="111.6" y="13" class="lt" textLength="7.8" lengthAdjust="spacingAndGlyphs">&lt;</text><text x="127.2" y="10.8" class="yi">y</text><text x="139.3" y="13" class="lt" textLength="7.8" lengthAdjust="spacingAndGlyphs">&lt;</text><text x="151" y="10.8" class="ti" textLength="13.4" lengthAdjust="spacingAndGlyphs">1.0</text><g stroke="#444" stroke-width="1.1"><line x1="124.4" y1="3" x2="124.4" y2="12.5"/><line x1="134.5" y1="3" x2="134.5" y2="12.5"/></g><text x="377.9" y="9" class="ti" textLength="67" lengthAdjust="spacingAndGlyphs">Data/Theory,</text><text x="449.1" y="9" class="ti" textLength="14.2" lengthAdjust="spacingAndGlyphs">1.0</text><text x="467.2" y="11.2" class="lt" textLength="7.8" lengthAdjust="spacingAndGlyphs">&lt;</text><text x="482.8" y="9" class="yi">y</text><text x="494.9" y="11.2" class="lt" textLength="7.8" lengthAdjust="spacingAndGlyphs">&lt;</text><text x="506.6" y="9" class="ti" textLength="13.4" lengthAdjust="spacingAndGlyphs">1.5</text><g stroke="#444" stroke-width="1.1"><line x1="480" y1="1.2" x2="480" y2="10.7"/><line x1="490.1" y1="1.2" x2="490.1" y2="10.7"/></g><text x="88.7" y="41.9" class="lg" textLength="35" lengthAdjust="spacingAndGlyphs">full corr.</text><text x="30.9" y="59.6" class="tt" textLength="23.1" lengthAdjust="spacingAndGlyphs">jes21</text><text x="57.3" y="62.1" class="pl" textLength="8" lengthAdjust="spacingAndGlyphs">+</text><text x="69.4" y="59.6" class="tt" textLength="23.4" lengthAdjust="spacingAndGlyphs">jes62</text><text x="95.9" y="59.6" class="lg" textLength="27.5" lengthAdjust="spacingAndGlyphs">decorr.</text><g stroke="#2e2e2e" stroke-width="1.0"><line x1="128.5" y1="40.2" x2="152.2" y2="40.2"/><line x1="128.5" y1="38.9" x2="128.5" y2="41.5"/><line x1="152.2" y1="38.9" x2="152.2" y2="41.5"/></g><circle cx="140.35" cy="40.2" r="1.4" fill="#777" stroke="#2e2e2e" stroke-width="1.0"/><g stroke="#f00" stroke-width="0.8"><line x1="128.5" y1="57.1" x2="152.2" y2="57.1"/><line x1="128.5" y1="55.8" x2="128.5" y2="58.4"/><line x1="152.2" y1="55.8" x2="152.2" y2="58.4"/></g><circle cx="140.35" cy="57.1" r="1.55" fill="#f00"/><text x="444.5" y="40.2" class="lg" textLength="35" lengthAdjust="spacingAndGlyphs">full corr.</text><text x="386.7" y="57.9" class="tt" textLength="23.1" lengthAdjust="spacingAndGlyphs">jes21</text><text x="413.1" y="60.4" class="pl" textLength="8" lengthAdjust="spacingAndGlyphs">+</text><text x="425.2" y="57.9" class="tt" textLength="23.4" lengthAdjust="spacingAndGlyphs">jes62</text><text x="451.7" y="57.9" class="lg" textLength="27.5" lengthAdjust="spacingAndGlyphs">decorr.</text><g stroke="#2e2e2e" stroke-width="1.0"><line x1="484.3" y1="38.5" x2="508" y2="38.5"/><line x1="484.3" y1="37.2" x2="484.3" y2="39.8"/><line x1="508" y1="37.2" x2="508" y2="39.8"/></g><circle cx="496.15" cy="38.5" r="1.4" fill="#777" stroke="#2e2e2e" stroke-width="1.0"/><g stroke="#f00" stroke-width="0.8"><line x1="484.3" y1="55.4" x2="508" y2="55.4"/><line x1="484.3" y1="54.1" x2="484.3" y2="56.7"/><line x1="508" y1="54.1" x2="508" y2="56.7"/></g><circle cx="496.15" cy="55.4" r="1.55" fill="#f00"/><text x="151.8" y="258" class="xl bi" textLength="6.5" lengthAdjust="spacingAndGlyphs">p</text><text x="158.3" y="259.8" class="sub" textLength="5.8" lengthAdjust="spacingAndGlyphs">&#8869;</text><text x="168.2" y="259.2" class="xlr">[</text><text x="170.8" y="258" class="xl" textLength="22.8" lengthAdjust="spacingAndGlyphs">GeV</text><text x="193.9" y="259.2" class="xlr">]</text><text x="507.2" y="256.2" class="xl bi" textLength="6.5" lengthAdjust="spacingAndGlyphs">p</text><text x="513.7" y="258" class="sub" textLength="5.8" lengthAdjust="spacingAndGlyphs">&#8869;</text><text x="523.6" y="257.4" class="xlr">[</text><text x="526.2" y="256.2" class="xl" textLength="22.8" lengthAdjust="spacingAndGlyphs">GeV</text><text x="549.3" y="257.4" class="xlr">]</text></svg></body></html>
